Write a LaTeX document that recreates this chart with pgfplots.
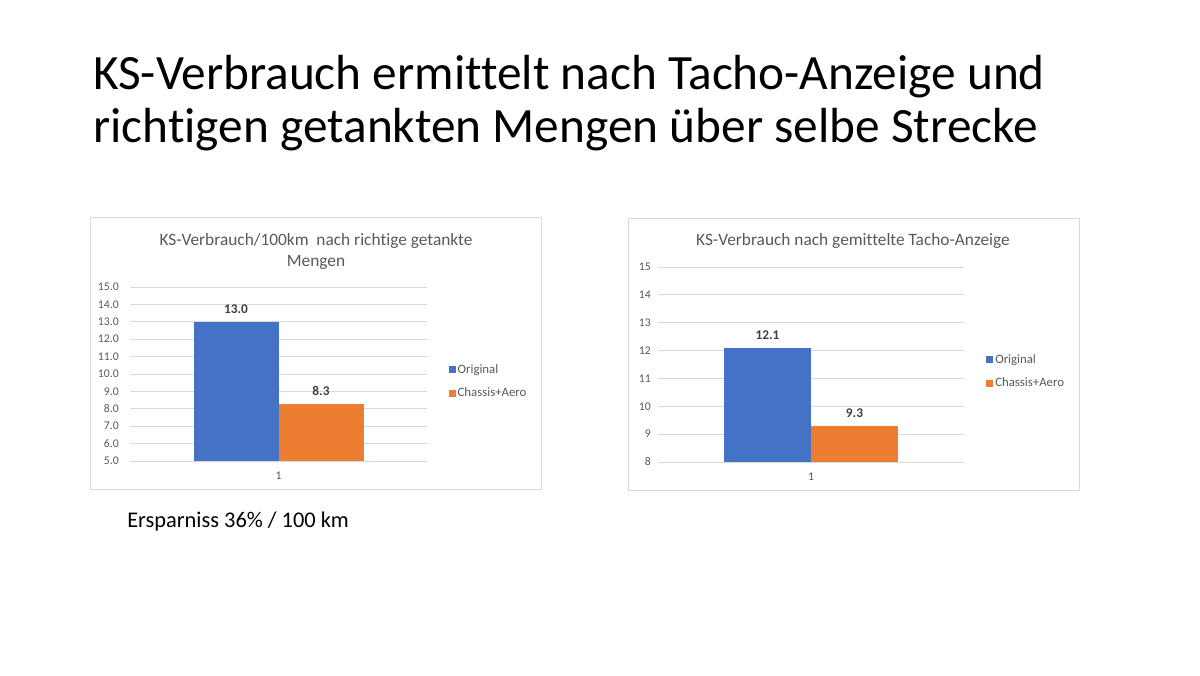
\documentclass[border=0pt]{standalone}
\usepackage{pgfplots}
\pgfplotsset{compat=1.18}
\usepackage{fontspec}
\setmainfont{Carlito}[Ligatures=NoCommon]
\definecolor{cblue}{HTML}{4472C4}
\definecolor{corange}{HTML}{ED7D31}
\definecolor{cgrid}{HTML}{D9D9D9}
\definecolor{ctext}{HTML}{595959}
\definecolor{clabel}{HTML}{404040}

\pgfplotsset{
  slidebar/.style={
    scale only axis,
    ybar=0pt,
    xmin=0, xmax=2,
    xtick={1},
    ymajorgrids,
    grid style={cgrid, line width=0.6pt},
    axis line style={draw=none},
    major tick length=0pt,
    /pgf/number format/assume math mode=true,
    tick label style={font=\fontsize{8.8}{10}\selectfont, text=ctext},
    xticklabel style={inner sep=0pt, yshift=-8pt},
    nodes near coords,
    nodes near coords style={font=\fontsize{10}{11}\selectfont\bfseries, text=clabel, yshift=2.5pt,
      /pgf/number format/.cd, fixed, fixed zerofill, precision=1, assume math mode=true},
    legend style={draw=none, fill=none, inner sep=0pt, anchor=west,
      font=\fontsize{9.6}{11}\selectfont, text=ctext,
      row sep=6.5pt, nodes={inner sep=1.5pt}},
    legend cell align=left,
    legend image code/.code={\fill[##1] (0pt,-2.6pt) rectangle (5.25pt,2.6pt);},
  },
}

\begin{document}
\begin{tikzpicture}
\path[use as bounding box, fill=white] (0pt,0pt) rectangle (900pt,506.25pt);

% slide title
\node[anchor=base west, inner sep=0pt, font=\fontsize{37}{40}\selectfont, text=black]
  at (69.75pt,438.75pt) {KS-Verbrauch ermittelt nach Tacho-Anzeige und};
\node[anchor=base west, inner sep=0pt, font=\fontsize{37}{40}\selectfont, text=black]
  at (69.75pt,399pt) {richtigen getankten Mengen über selbe Strecke};

% chart frames
\draw[cgrid, line width=0.75pt] (67.5pt,342.75pt) rectangle (405.75pt,138.75pt);
\draw[cgrid, line width=0.75pt] (471pt,342pt) rectangle (809.25pt,138pt);

% chart titles
\node[align=center, text=ctext, font=\fontsize{13}{15.75}\selectfont]
  at (237pt,317.6pt) {KS-Verbrauch/100km\ \ nach richtige getankte\\Mengen};
\node[text=ctext, font=\fontsize{13}{15.75}\selectfont]
  at (639.75pt,325.5pt) {KS-Verbrauch nach gemittelte Tacho-Anzeige};

% left chart
\begin{axis}[slidebar,
  at={(97.5pt,160.5pt)}, anchor=south west,
  width=222.75pt, height=130.5pt,
  bar width=63.75pt,
  ymin=5, ymax=15,
  ytick={5,6,...,15},
  yticklabel style={inner sep=0pt, xshift=-8.25pt,
    /pgf/number format/.cd, fixed, fixed zerofill, precision=1},
  legend style={at={(1.072,0.457)}},
]
\addplot[fill=cblue, draw=none] coordinates {(1,13.0)};
\addplot[fill=corange, draw=none] coordinates {(1,8.3)};
\legend{Original, Chassis+Aero}
\end{axis}

% right chart
\begin{axis}[slidebar,
  at={(493.5pt,159.75pt)}, anchor=south west,
  width=229.5pt, height=146.25pt,
  bar width=65.25pt,
  ymin=8, ymax=15,
  ytick={8,9,...,15},
  yticklabel style={inner sep=0pt, xshift=-5.25pt},
  legend style={at={(1.072,0.464)}},
]
\addplot[fill=cblue, draw=none] coordinates {(1,12.1)};
\addplot[fill=corange, draw=none] coordinates {(1,9.3)};
\legend{Original, Chassis+Aero}
\end{axis}

% note
\node[anchor=base west, inner sep=0pt, font=\fontsize{16.8}{19}\selectfont, text=black]
  at (95.25pt,110.25pt) {Ersparniss 36\% / 100 km};
\end{tikzpicture}
\end{document}
